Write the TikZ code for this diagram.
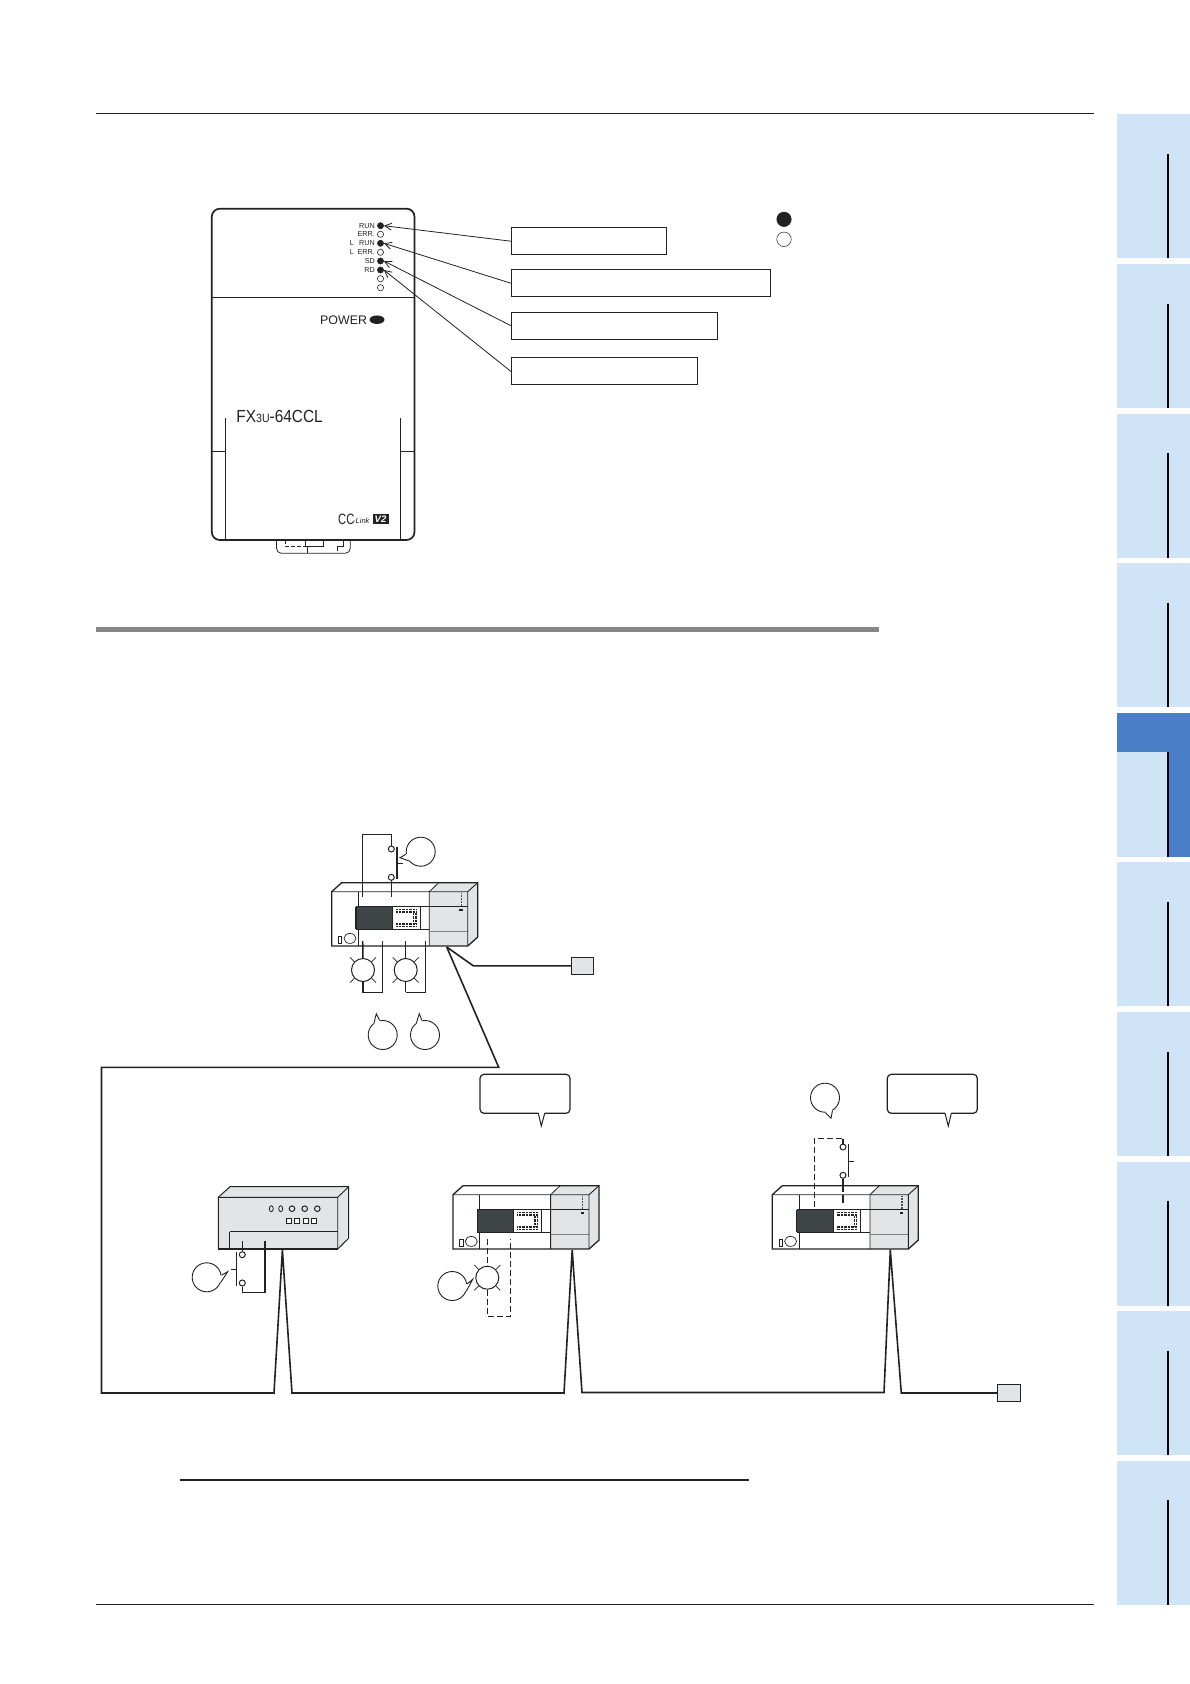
\documentclass[tikz,border=0pt]{standalone}
\usepackage{fontspec}
\setmainfont{Liberation Sans}
\usetikzlibrary{arrows.meta,shapes.geometric}
\definecolor{tablight}{HTML}{CFE4F6}
\definecolor{tabdark}{HTML}{4A7EC7}
\definecolor{plcgray}{HTML}{E2E4E5}
\definecolor{plcdark}{HTML}{3F4446}
\definecolor{ink}{HTML}{222222}
\tikzset{
  ledon/.style={circle,fill=ink,draw=ink,line width=.5pt,minimum size=6.2pt,inner sep=0pt},
  ledoff/.style={circle,fill=white,draw=ink,line width=.6pt,minimum size=6.2pt,inner sep=0pt},
  ledtext/.style={anchor=east,inner sep=0pt,text=ink,font=\fontsize{7.2}{8}\selectfont},
  callbox/.style={draw=ink,line width=1pt,fill=white,anchor=north west,inner sep=0pt},
  leader/.style={draw=ink,line width=.8pt,-{Straight Barb[length=7pt,width=7pt]}},
  bub/.style={ellipse,draw=ink,line width=.9pt,fill=white,minimum width=29pt,minimum height=29pt,inner sep=0pt},
  lampnode/.style={circle,draw=ink,line width=1pt,fill=white,minimum size=23pt,inner sep=0pt},
  term/.style={circle,draw=ink,line width=1pt,fill=white,minimum size=6pt,inner sep=0pt},
  wire/.style={draw=ink,line width=1.5pt},
  thinwire/.style={draw=ink,line width=.8pt},
  dashwire/.style={draw=ink,line width=.9pt,dash pattern=on 6pt off 3pt},
  speech/.style={rectangle,rounded corners=4pt,draw=ink,line width=1.2pt,fill=white,minimum width=90pt,minimum height=39pt,inner sep=0pt},
  cable/.style={draw=ink,line width=1.6pt,line join=miter},
  endbox/.style={rectangle,draw=ink,line width=1pt,fill=plcgray,minimum width=22pt,minimum height=17pt,inner sep=0pt},
  plc/.pic={
    \fill[white] (0,0) rectangle (97.6,54.3);
    \fill[plcgray] (97.6,0) rectangle (136,54.3);
    \fill[white] (0,0) -- (10,-9) -- (107,-9) -- (97.6,0) -- cycle;
    \fill[plcgray] (97.6,0) -- (107,-9) -- (146,-9) -- (136,0) -- cycle;
    \fill[plcgray] (136,0) -- (146,-9) -- (146,45.4) -- (136,54.3) -- cycle;
    \fill[plcdark] (24.3,15) rectangle (60.6,37.6);
    \draw[ink,line width=.8pt] (26.6,0) -- (26.6,15) (26.6,37.6) -- (26.6,54.3);
    \draw[ink,line width=1.2pt] (24.3,15) -- (24.3,37.6);
    \draw[ink,line width=.8pt] (24.3,15) -- (136,15) (24.3,37.6) -- (97.6,37.6) (60.6,15) -- (60.6,37.6) (88.3,15) -- (88.3,37.6);
    \draw[ink,line width=.8pt] (97.6,0) -- (107,-9) (97.6,0) -- (97.6,54.3);
    \draw[gray,line width=1pt] (97.6,40) -- (136,40);
    \draw[ink,line width=1.3pt,line join=miter] (0,0) -- (10,-9) -- (146,-9) -- (146,45.4) -- (136,54.3) -- (0,54.3) -- cycle;
    \draw[ink,line width=.9pt] (0,0) -- (136,0) -- (136,54.3) (136,0) -- (146,-9);
    \draw[ink,line width=1.5pt,dash pattern=on 1pt off .4pt] (64.3,18) -- (85,18) (64.3,20.4) -- (85,20.4) (64.3,32.5) -- (85,32.5) (64.3,35) -- (85,35);
    \draw[ink,line width=1.3pt,dash pattern=on 1pt off .4pt] (82,21) -- (82,32) (84.4,21) -- (84.4,32);
    \draw[ink,line width=.7pt] (6.7,45) rectangle (10,51.7);
    \draw[ink,line width=.7pt] (18.3,46.7) ellipse (6 and 5);
    \draw[ink!80,line width=1.1pt,dash pattern=on 1pt off .5pt] (129.7,1.7) -- (129.7,14.5);
    \draw[ink,line width=1.6pt] (127.6,18.2) -- (131,18.2);
  },
  rays/.pic={
    \draw[ink,line width=.7pt] (-8.7,-8.3) -- (-13,-12.7) (8.7,-8.3) -- (13,-12.7) (-8.7,8.3) -- (-13,12.7) (8.7,8.3) -- (13,12.7);
  }
}
\begin{document}
\begin{tikzpicture}[x=1pt,y=-1pt]
\useasboundingbox[fill=white] (0,0) rectangle (1190,1684);
% page furniture
\draw[ink,line width=.9pt] (95.6,113) -- (1094,113);
\draw[ink,line width=.9pt] (95.6,1604.5) -- (1094,1604.5);
\fill[gray!95] (95.6,626.5) rectangle (878.5,631.5);
\draw[ink,line width=1.2pt] (179.5,1480) -- (748.5,1480);
\foreach \i in {0,...,9}{
  \pgfmathsetmacro{\t}{114.3+149.6*\i}
  \fill[tablight] (1116.6,\t) rectangle (1190,\t+144);
  \ifnum\i=4
    \fill[tabdark] (1116.6,\t) rectangle (1190,\t+39.6);
    \fill[tabdark] (1168,\t+39.6) rectangle (1190,\t+144);
  \fi
  \draw[black,line width=1.6pt] (1168,\t+39.6) -- (1168,\t+144);
}
% module
\draw[ink,line width=1.7pt,rounded corners=8pt,fill=white] (211.8,208.7) rectangle (414.5,540);
\draw[ink,line width=1pt] (211.8,297) -- (414.5,297);
\draw[ink,line width=.8pt] (225.7,418) -- (225.7,540) (400.5,418) -- (400.5,540) (211.8,451.7) -- (225.7,451.7) (400.5,451.7) -- (414.5,451.7);
\node[ledon] (led1) at (380.5,225.7) {};
\node[ledoff] (led2) at (380.5,234.3) {};
\node[ledon] (led3) at (380.5,243.3) {};
\node[ledoff] (led4) at (380.5,252.3) {};
\node[ledon] (led5) at (380.5,261) {};
\node[ledon] (led6) at (380.5,270) {};
\node[ledoff] (led7) at (380.5,278.7) {};
\node[ledoff] (led8) at (380.5,287.7) {};
\node[ledtext] (t1) at (375,225.7) {RUN};
\node[ledtext] (t2) at (375,234.3) {ERR.};
\node[ledtext] (t3) at (375,243.3) {RUN};
\node[ledtext] (t4) at (375,252.3) {ERR.};
\node[ledtext] (t5) at (375,261) {SD};
\node[ledtext] (t6) at (375,270) {RD};
\node[ledtext] (l3) at (354,243.3) {L};
\node[ledtext] (l4) at (354,252.3) {L};
\node[anchor=west,inner sep=0pt,text=ink,font=\fontsize{12.4}{14}\selectfont] (pw) at (320,320) {POWER};
\node[ellipse,fill=ink,minimum width=15pt,minimum height=8.5pt,inner sep=0pt] (pwled) at (377,319.7) {};
\node[anchor=west,inner sep=0pt,text=ink,font=\fontsize{17.5}{20}\selectfont,xscale=.88,transform shape] (fx) at (236.3,416) {FX{\fontsize{12}{12}\selectfont 3U}-64CCL};
\node[anchor=west,inner sep=0pt,text=ink,font=\fontsize{15}{15}\selectfont,xscale=.75,transform shape] (cc) at (338,519) {CC};
\node[anchor=west,inner sep=0pt,text=ink,font=\fontsize{7.5}{8}\selectfont\itshape] (link) at (353,520.5) {-Link};
\node[anchor=center,fill=ink,text=white,inner sep=0pt,minimum width=16pt,minimum height=9.7pt,font=\fontsize{9.5}{10}\selectfont\bfseries\itshape] (v2) at (380.5,518.8) {V2};
% connector below module
\draw[ink,line width=.8pt,rounded corners=5pt] (276.5,540) -- (276.5,553.3) -- (350.3,553.3) -- (350.3,540);
\draw[ink,line width=.7pt,dash pattern=on 4pt off 2pt] (285,540) -- (285,546) -- (305,546);
\draw[ink,line width=.7pt] (305,540) -- (305,546) -- (323,546) -- (323,540) (307,546) -- (307,553) (343,540) -- (343,546) -- (337.6,546) -- (337.6,551);
% callouts
\node[callbox,minimum width=154.8pt,minimum height=27pt] (box1) at (510.8,227.2) {};
\node[callbox,minimum width=258.8pt,minimum height=27pt] (box2) at (510.8,269.2) {};
\node[callbox,minimum width=205.8pt,minimum height=27.3pt] (box3) at (510.8,311.5) {};
\node[callbox,minimum width=186.1pt,minimum height=27pt] (box4) at (510.8,357.3) {};
\draw[leader] (box1.west) -- (led1.east);
\draw[leader] (box2.west) -- (led3.east);
\draw[leader] (box3.west) -- (led5.east);
\draw[leader] (box4.west) -- (led6.east);
\node[circle,fill=ink,draw=ink,line width=.5pt,minimum size=14.5pt,inner sep=0pt] (keyon) at (784,219.3) {};
\node[circle,fill=white,draw=ink,line width=.5pt,minimum size=14.5pt,inner sep=0pt] (keyoff) at (784,239.3) {};
% PLCs
\pic at (331.7,891.7) {plc};
\pic at (453,1194.7) {plc};
\pic at (772.3,1194.7) {plc};
% remote module
\fill[plcgray] (218.3,1197.3) -- (230,1186.7) -- (348.7,1186.7) -- (348.7,1238.3) -- (337.7,1249) -- (218.3,1249) -- cycle;
\draw[ink,line width=1pt] (218.3,1249) -- (218.3,1197.3) -- (230,1186.7) -- (348.7,1186.7) -- (348.7,1238.3) -- (337.7,1249);
\draw[ink,line width=.9pt] (218.3,1197.3) -- (337.7,1197.3) -- (337.7,1249) (337.7,1197.3) -- (348.7,1186.7);
\draw[ink,line width=1.5pt] (218.3,1249) -- (337.7,1249);
\draw[ink,line width=.9pt] (229.7,1231.7) -- (337.7,1231.7);
\draw[ink,line width=1.4pt] (229.7,1231.7) -- (229.7,1249);
\foreach \x in {271.3,280.7}{\draw[ink,line width=.8pt] (\x,1208.7) ellipse (2 and 3);}
\foreach \x in {292,304.7,317.3}{\draw[ink,line width=1pt] (\x,1208.7) ellipse (2.8 and 2.8);}
\foreach \x in {288.7,297,305.7,314}{\draw[ink,line width=1.4pt,fill=white] (\x-2.5,1218.5) rectangle (\x+2.5,1223.5);}
% top switch PLC1
\node[term] (s1a) at (391.3,849) {};
\node[term] (s1b) at (391.3,877.3) {};
\draw[wire] (362.7,896.7) -- (362.7,834.3);
\draw[thinwire] (362.7,834.3) -- (391.3,834.3) -- (s1a.north);
\draw[thinwire] (s1b.south) -- (391.3,896.7);
\draw[wire] (397,846.7) -- (397,879.3);
\draw[thinwire] (397,863.3) -- (402.7,863.3);
\node[bub] (b1) at (420.7,851.7) {};
\fill[white] (b1.center) -- (b1.190) -- (400,857.7) -- (b1.218) -- cycle;
\draw[ink,line width=.9pt] (b1.190) -- (400,857.7) -- (b1.218);
% lamps PLC1
\node[lampnode] (lamp1) at (363,970) {};
\pic at (363,970) {rays};
\node[lampnode] (lamp2) at (405.7,970) {};
\pic at (405.7,970) {rays};
\draw[wire] (362.7,941) -- (lamp1.north);
\draw[wire,line join=miter] (lamp1.south) -- (363,992.3) -- (382.7,992.3) -- (382.7,941);
\draw[wire] (405.7,941) -- (lamp2.north);
\draw[wire] (lamp2.south) -- (405.7,992.3);
\draw[thinwire] (405.7,992.3) -- (425.7,992.3) -- (425.7,941);
\node[bub] (b2) at (382.7,1035) {};
\fill[white] (b2.center) -- (b2.102) -- (376.3,1013.7) -- (b2.125) -- cycle;
\draw[ink,line width=.9pt] (b2.102) -- (376.3,1013.7) -- (b2.125);
\node[bub] (b3) at (425,1035) {};
\fill[white] (b3.center) -- (b3.102) -- (419.3,1013.7) -- (b3.125) -- cycle;
\draw[ink,line width=.9pt] (b3.102) -- (419.3,1013.7) -- (b3.125);
% terminator top
\node[endbox] (end1) at (582.7,965.8) {};
\coordinate (tap) at (446.7,947);
\draw[cable] (tap) -- (473.3,965.8) -- (end1.west);
% network cable
\node[endbox,minimum width=23.4pt] (end2) at (1009,1393) {};
\draw[cable] (tap) -- (498.7,1067.3) -- (101.5,1067.3) -- (101.5,1393) -- (274,1393) -- (282.4,1250) -- (292,1393) -- (564,1393) -- (572.2,1250) -- (582,1392.5) -- (884,1392.5) -- (890.3,1250) -- (901.3,1393) -- (end2.west);
% remote switch
\node[term] (s2a) at (242.3,1254.7) {};
\node[term] (s2b) at (242.3,1283) {};
\draw[thinwire] (242.3,1241) -- (s2a.north);
\draw[wire,line join=miter] (s2b.south) -- (242.3,1292.3) -- (265,1292.3) -- (265,1241);
\draw[wire] (236.7,1251.7) -- (236.7,1285.7);
\draw[thinwire] (231,1269) -- (236.7,1269);
\node[bub] (b4) at (206.7,1277.3) {};
\fill[white] (b4.center) -- (b4.-20) -- (227.7,1271.7) -- (b4.8) -- cycle;
\draw[ink,line width=.9pt] (b4.-20) -- (227.7,1271.7) -- (b4.8);
% PLC2 dashed lamp
\node[lampnode] (lamp3) at (487.3,1277.7) {};
\pic at (487.3,1277.7) {rays};
\draw[dashwire] (487.3,1239) -- (lamp3.north);
\draw[dashwire] (lamp3.south) -- (487.3,1316) -- (510.7,1316) -- (510.7,1239);
\node[bub] (b5) at (452.3,1286) {};
\fill[white] (b5.center) -- (b5.-20) -- (472.7,1279.3) -- (b5.8) -- cycle;
\draw[ink,line width=.9pt] (b5.-20) -- (472.7,1279.3) -- (b5.8);
% speech boxes
\node[speech] (sp1) at (525,1093.8) {};
\fill[white] (538.3,1112) -- (541.3,1126) -- (544.7,1112) -- cycle;
\draw[ink,line width=1pt] (538.3,1113.3) -- (541.3,1126) -- (544.7,1113.3);
\node[speech] (sp2) at (932.3,1093.8) {};
\fill[white] (945,1112) -- (948.3,1126) -- (951.3,1112) -- cycle;
\draw[ink,line width=1pt] (945,1113.3) -- (948.3,1126) -- (951.3,1113.3);
% PLC3 dashed switch
\node[term] (s3a) at (843,1147) {};
\node[term] (s3b) at (843,1175.3) {};
\draw[dashwire] (814.3,1206.7) -- (814.3,1138.7) -- (843,1138.7);
\draw[wire] (843,1138.7) -- (s3a.north);
\draw[wire] (s3b.south) -- (843,1192);
\draw[wire] (843,1194.7) -- (843,1202.7);
\draw[thinwire] (848.3,1144) -- (848.3,1177.3);
\draw[thinwire] (848.3,1161) -- (853.7,1161);
\node[bub] (b6) at (825,1097.7) {};
\fill[white] (b6.center) -- (b6.272) -- (831,1118.3) -- (b6.300) -- cycle;
\draw[ink,line width=.9pt] (b6.272) -- (831,1118.3) -- (b6.300);
\end{tikzpicture}
\end{document}
